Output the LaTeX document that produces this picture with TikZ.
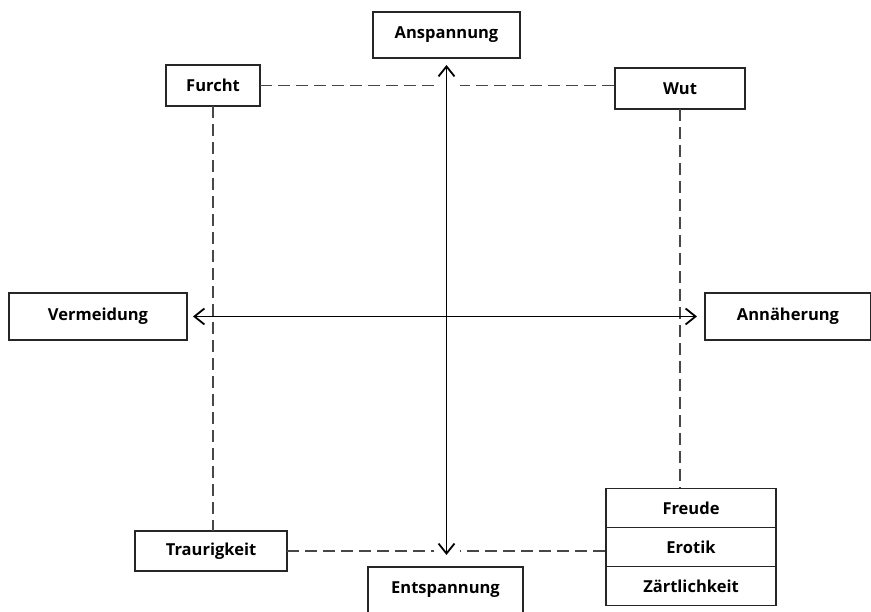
\documentclass[tikz,border=0pt]{standalone}
\usepackage{fontspec}
\setsansfont{Open Sans}
\usetikzlibrary{positioning,arrows.meta}

\begin{document}
\begin{tikzpicture}[x=1pt,y=1pt,
  box/.style={rectangle, draw=black!85, line width=1.5pt, fill=white, inner sep=0pt, outer sep=0pt,
    font=\sffamily\bfseries\fontsize{16.5}{19}\selectfont},
  arrow/.style={{Straight Barb[length=10pt,width=16pt]}-{Straight Barb[length=10pt,width=16pt]}, line width=1.8pt, black},
  dashline/.style={dash pattern=on 12pt off 6pt, line width=1.8pt, black!72}
]
\useasboundingbox (0,0) rectangle (871,612);

\node[box, minimum width=147, minimum height=46] (anspannung) at (446.5,577) {Anspannung};
\node[box, minimum width=155, minimum height=46] (entspannung) at (445.5,22) {Entspannung};
\node[box, minimum width=178, minimum height=47] (vermeidung) at (98,295.5) {Vermeidung};
\node[box, minimum width=166, minimum height=47] (annaeherung) at (788,295.5) {Annäherung};
\node[box, minimum width=94, minimum height=41] (furcht) at (213,526.5) {Furcht};
\node[box, minimum width=130, minimum height=41] (wut) at (680,523.5) {Wut};
\node[box, minimum width=152, minimum height=40] (traurigkeit) at (211,61) {Traurigkeit};
\node[box, minimum width=170, minimum height=39] (freude) at (691,104) {Freude};
\node[box, minimum width=170, minimum height=39, below=0pt of freude] (erotik) {Erotik};
\node[box, minimum width=170, minimum height=39, below=0pt of erotik] (zaertlichkeit) {Zärtlichkeit};

% square of dashed lines
\draw[dashline] (furcht.east) -- (furcht.east -| wut.west);
\draw[dashline] (furcht.south) -- (furcht.south |- traurigkeit.north);
\draw[dashline] (wut.south) -- (wut.south |- freude.north);
\draw[dashline] (traurigkeit.east) -- (traurigkeit.east -| erotik.west);

% axes
\draw[arrow, shorten <=7pt, shorten >=12pt, preaction={draw=white, line width=26pt, arrows=-}]
  (anspannung.south) -- (anspannung.south |- entspannung.north);
\draw[arrow, shorten <=6pt, shorten >=8pt] (vermeidung.east) -- (vermeidung.east -| annaeherung.west);
\end{tikzpicture}
\end{document}
